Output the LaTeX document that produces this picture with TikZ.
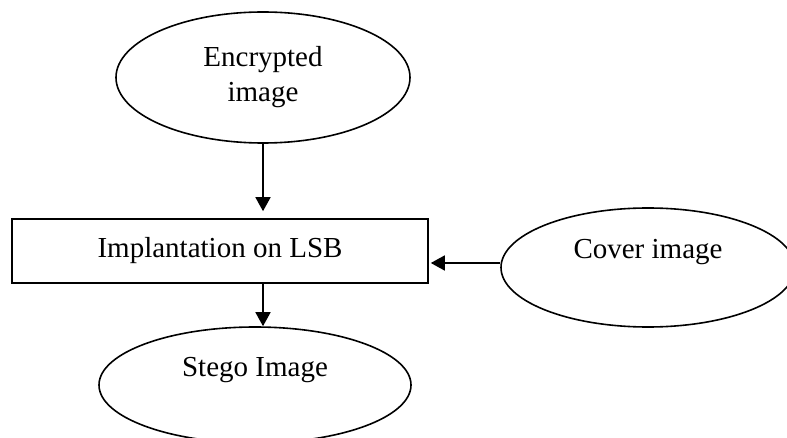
\documentclass[tikz,border=0pt]{standalone}
\usepackage{fontspec}
\setmainfont{Liberation Serif}
\usepackage{tikz}
\usetikzlibrary{shapes.geometric}
\usetikzlibrary{arrows.meta}

\begin{document}
\begin{tikzpicture}[x=1pt,y=-1pt,
 line width=1.6pt,
 font=\fontsize{29}{35}\selectfont,
 oval/.style={draw, ellipse, inner sep=0pt},
 box/.style={draw, rectangle, inner sep=0pt},
 flow/.style={-{Triangle[length=14pt,width=15pt]}}]
\useasboundingbox (0,0) rectangle (787,438);
\clip (0,0) rectangle (787,438);

\node[oval, minimum width=294, minimum height=131, align=center] (enc) at (263,77.5) {Encrypted\\image};
\node[box, minimum width=416, minimum height=64] (impl) at (220,251) {Implantation on LSB};
\node[oval, minimum width=294, minimum height=119, text depth=38pt] (cover) at (648,267.5) {Cover image};
\node[oval, minimum width=312, minimum height=116, text depth=36pt] (stego) at (255,385) {Stego Image};

\draw[flow, shorten >=7pt] (enc.south) -- (enc.south |- impl.north);
\draw[flow] (impl.south -| enc.south) -- (stego.north -| enc.south);
\draw[flow, shorten >=2pt] ([yshift=4.5pt]cover.west) -- ([yshift=4.5pt]cover.west -| impl.east);
\end{tikzpicture}
\end{document}
